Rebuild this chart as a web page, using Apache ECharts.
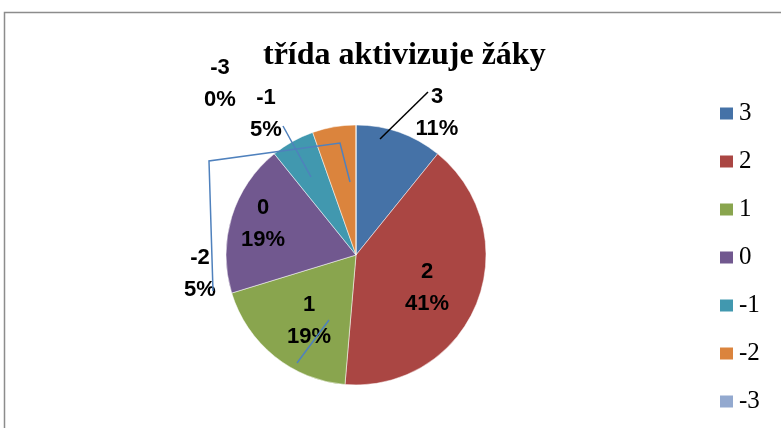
<!DOCTYPE html>
<html>
<head>
<meta charset="utf-8">
<script src="https://cdn.jsdelivr.net/npm/echarts@6/dist/echarts.min.js"></script>
<style>
  html, body { margin: 0; padding: 0; background: #fff; }
  #main { width: 781px; height: 428px; }
</style>
</head>
<body>
<div id="main"></div>
<script>
// hodnocení a počty žáků
var categories = ['3', '2', '1', '0', '-1', '-2', '-3'];
var counts = [4, 15, 7, 7, 2, 2, 0];
var colors = ['#4572A7', '#AA4643', '#89A54E', '#71588F', '#4198AF', '#DB843D', '#93A9CF'];

// kde leží popisky (střed textu)
var labelPos = [[437, 113], [427, 288], [309, 321], [263, 224], [266, 114], [200, 274], [220, 84]];
// vodící čáry k popiskům
var leaderLines = [
  { pts: [[428, 92], [380, 139]], color: '#000' },
  { pts: [[329, 320], [297, 363]], color: '#4F81BD' },
  { pts: [[283, 126], [311, 177]], color: '#4F81BD' },
  { pts: [[213, 291], [209, 161], [340, 143], [350, 182]], color: '#4F81BD' }
];

var chartDom = document.getElementById('main');
var myChart = echarts.init(chartDom);

var graphics = [{
  type: 'rect',
  shape: { x: 4.5, y: 12.5, width: 800, height: 500 },
  style: { fill: 'none', stroke: '#8c8c8c', lineWidth: 1.5 },
  silent: true
}];
leaderLines.forEach(function (l) {
  graphics.push({
    type: 'polyline',
    shape: { points: l.pts },
    style: { fill: 'none', stroke: l.color, lineWidth: 1.5 },
    z: 100,
    silent: true
  });
});

var option = {
  animation: false,
  color: colors,
  title: {
    text: 'třída aktivizuje žáky',
    left: 258,
    top: 35,
    textStyle: {
      fontFamily: 'Liberation Serif',
      fontWeight: 'bold',
      fontSize: 32,
      color: '#000'
    }
  },
  legend: {
    orient: 'vertical',
    left: 713,
    top: 96,
    icon: 'rect',
    itemWidth: 15,
    itemHeight: 14,
    itemGap: 23,
    data: categories,
    textStyle: {
      fontFamily: 'Liberation Serif',
      fontSize: 25,
      lineHeight: 24,
      color: '#000'
    }
  },
  graphic: graphics,
  series: [{
    type: 'pie',
    center: [356, 255],
    radius: 130,
    startAngle: 90,
    clockwise: true,
    percentPrecision: 0,
    itemStyle: { borderColor: '#fff', borderWidth: 0.5 },
    label: {
      show: true,
      position: 'outside',
      formatter: '{b}\n{d}%',
      fontFamily: 'Liberation Sans',
      fontWeight: 'bold',
      fontSize: 22,
      lineHeight: 32,
      color: '#000'
    },
    labelLine: { show: false },
    labelLayout: function (params) {
      var i = params.dataIndex;
      return {
        x: labelPos[i][0],
        y: labelPos[i][1],
        align: 'center',
        verticalAlign: 'middle'
      };
    },
    data: categories.map(function (c, i) {
      return { name: c, value: counts[i] };
    })
  }]
};

myChart.setOption(option);
</script>
</body>
</html>
